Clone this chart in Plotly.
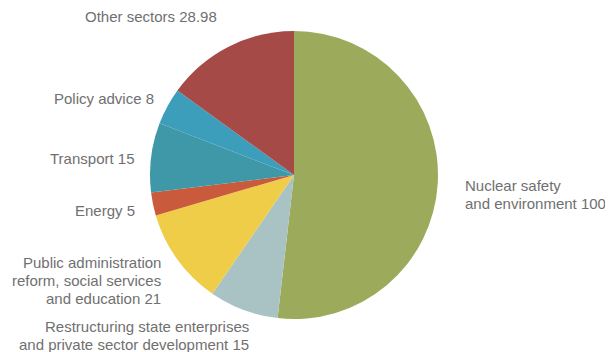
import plotly.graph_objects as go

# Sector shares (drawn clockwise from 12 o'clock)
sectors = [
    "Nuclear safety<br>and environment",
    "Restructuring state enterprises<br>and private sector development",
    "Public administration<br>reform, social services<br>and education",
    "Energy",
    "Transport",
    "Policy advice",
    "Other sectors",
]
values = [100, 15, 21, 5, 15, 8, 28.98]
value_labels = ["100", "15", "21", "5", "15", "8", "28.98"]
colors = ["#9bab5b", "#a9c3c4", "#efcd48", "#c95a3c", "#3e98a8", "#3d9ebb", "#a64a48"]

# page body has an 8px margin, so the figure is shrunk and shifted by that
OFF = 8
W, H = 613 - OFF, 352 - OFF
LINE = 18  # line spacing of the labels, px


def fx(px_):
    return (px_ - OFF) / W


def fy(py_):
    return 1 - (py_ - OFF) / H


fig = go.Figure(
    go.Pie(
        labels=sectors,
        values=values,
        sort=False,
        direction="clockwise",
        rotation=0,
        marker=dict(colors=colors, line=dict(width=0)),
        textinfo="none",
        hoverinfo="label+value",
        domain=dict(x=[fx(150), fx(438)], y=[fy(319), fy(31)]),
        showlegend=False,
    )
)

# label placement: (x px, y px of first line, anchor) in window pixels
label_pos = [
    (463, 185, "left"),
    (251, 326, "right"),
    (163, 262, "right"),
    (137, 210, "right"),
    (137, 158, "right"),
    (156, 98, "right"),
    (151, 16, "center"),
]

for name, val, (px_, py_, anchor) in zip(sectors, value_labels, label_pos):
    lines = f"{name} {val}".split("<br>")
    for i, line in enumerate(lines):
        fig.add_annotation(
            x=fx(px_),
            y=fy(py_ + i * LINE),
            xref="paper",
            yref="paper",
            xanchor=anchor,
            yanchor="middle",
            text=line,
            showarrow=False,
            font=dict(family="Liberation Sans, Arial, sans-serif", size=15, color="#707070"),
        )

fig.update_layout(
    width=W,
    height=H,
    margin=dict(l=0, r=0, t=0, b=0),
    paper_bgcolor="white",
    plot_bgcolor="white",
)

fig.write_html("out.html")
